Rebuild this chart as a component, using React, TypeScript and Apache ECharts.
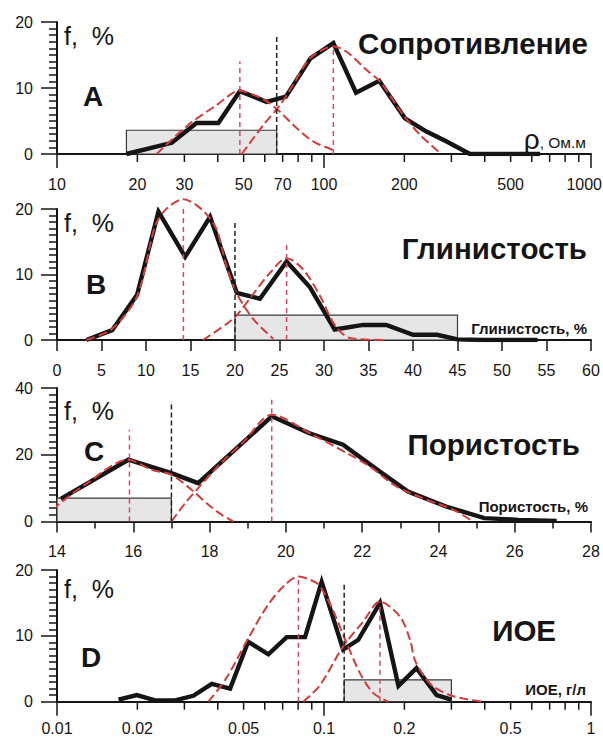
import React, { useEffect, useRef } from 'react';
import * as echarts from 'echarts';

// ---------- Panel A: Сопротивление (log axis, Ом.м) ----------
const aBlackX = [18.2, 26.9, 33.3, 40.2, 48.4, 60.9, 72, 89, 108.4, 131.8, 161, 201, 242, 288, 352, 430, 525, 645];
const aBlackF = [0, 1.7, 4.7, 4.7, 9.5, 7.9, 8.7, 14.5, 16.8, 9.3, 11.1, 5.4, 3.4, 1.9, 0, 0, 0, 0];
const aFit1X = [23.6, 31.0, 39.6, 48.4, 54.3, 60.9, 68.4, 76.7, 91.0, 105.3, 108.4];
const aFit1F = [0, 4.4, 7.4, 9.6, 9.0, 8.0, 6.4, 4.4, 1.9, 0.8, 0.5];
const aFit2X = [49.2, 59.3, 68.4, 76.7, 88.7, 108.4, 121.6, 144.6, 162, 198, 229, 275];
const aFit2F = [0, 4.4, 7.4, 10.5, 14.5, 16.3, 15.5, 12.7, 11.0, 5.9, 2.9, 0];
const aModes = [48.4, 108.4];
const aModeTops = [14, 16.3];
const aCut = 66.5;
const aCutTop = 18;
const aRange = [18.2, 66.5];
const aRangeTop = 3.6;
const aTicks = [10, 20, 30, 40, 50, 60, 70, 80, 90, 100, 200, 300, 400, 500, 600, 700, 800, 900, 1000];
const aTickLabels = [10, 20, 30, 50, 70, 100, 200, 500, 1000];

// ---------- Panel B: Глинистость, % ----------
const bBlackX = [3.3, 6.2, 9.0, 11.4, 14.4, 17.2, 20.2, 22.8, 25.8, 28.4, 31.2, 34.4, 37.0, 40.0, 42.7, 45.0, 48, 51, 54];
const bBlackF = [0, 1.5, 6.9, 19.6, 12.7, 18.8, 7.2, 6.3, 12.0, 8.1, 1.6, 2.3, 2.3, 0.8, 0.8, 0.1, 0, 0, 0];
const bFit1X = [3.3, 6.2, 9.0, 11.0, 12.2, 14.2, 16.3, 17.9, 19.0, 20.2, 22.1, 24.3];
const bFit1F = [0, 1.7, 6.7, 17.3, 19.9, 21.5, 19.9, 17.0, 11.5, 7.1, 3.1, 0.2];
const bFit2X = [16.4, 19.1, 20.2, 22.1, 23.9, 25.8, 27.7, 29.6, 31.2, 32.9, 36.7];
const bFit2F = [0, 2.5, 3.8, 7.1, 10.2, 12.5, 10.7, 6.6, 2.3, 0.3, 0];
const bModes = [14.2, 25.8];
const bModeTops = [21.5, 14.5];
const bCut = 20;
const bCutTop = 18.3;
const bRange = [20, 45];
const bRangeTop = 3.8;

// ---------- Panel C: Пористость, % ----------
const cBlackX = [14.1, 15.87, 17.0, 17.7, 19.63, 20.6, 21.5, 22.4, 23.2, 24.2, 25.2, 26.1, 27.1];
const cBlackF = [6.8, 18.5, 14.5, 11.5, 31.5, 26.5, 23.0, 15.5, 9.0, 4.5, 1.0, 0.5, 0.2];
const cFit1X = [13.73, 13.9, 14.03, 14.73, 15.87, 16.48, 17.0, 17.53, 17.97, 18.32, 18.62];
const cFit1F = [0, 3.5, 5, 11, 18.5, 15.5, 14, 9.5, 5, 2, 0];
const cFit2X = [17.0, 17.36, 17.7, 18.3, 18.9, 19.63, 20.7, 21.6, 22.2, 22.9, 23.7, 24.4, 24.9];
const cFit2F = [0, 5.5, 10, 17.5, 24, 32, 26, 20.5, 16.5, 10.5, 6.5, 3.5, 0];
const cModes = [15.9, 19.63];
const cModeTops = [27.5, 36.5];
const cCut = 17.0;
const cCutTop = 36;
const cRange = [14, 17];
const cRangeTop = 7;

// ---------- Panel D: ИОЕ, г/л (log axis) ----------
const dBlackX = [0.017, 0.0199, 0.0233, 0.0277, 0.0324, 0.038, 0.0445, 0.052, 0.0619, 0.0725, 0.0849, 0.098, 0.118, 0.1344, 0.162, 0.19, 0.222, 0.264, 0.3];
const dBlackF = [0.3, 1.0, 0.2, 0.2, 0.9, 2.7, 2.0, 9.1, 7.2, 9.8, 9.8, 18.2, 7.9, 9.4, 15.0, 2.4, 5.1, 1.0, 0.3];
const dFit1X = [0.0369, 0.0431, 0.052, 0.061, 0.0704, 0.0802, 0.094, 0.0996, 0.108, 0.1216, 0.1365, 0.153, 0.174];
const dFit1F = [0, 3.6, 9.6, 14.4, 17.5, 19.0, 18.0, 16.7, 13.9, 8.9, 4.3, 1.3, 0];
const dFit2X = [0.0836, 0.0966, 0.118, 0.1405, 0.162, 0.1926, 0.21, 0.219, 0.235, 0.2566, 0.296, 0.34, 0.395];
const dFit2F = [0, 2.5, 8.4, 12.2, 15.2, 12.9, 9.4, 6.3, 4.1, 2.3, 1.0, 0.4, 0];
const dModes = [0.0802, 0.162];
const dModeTops = [19, 15.2];
const dCut = 0.119;
const dCutTop = 18.2;
const dRange = [0.119, 0.3];
const dRangeTop = 3.3;
const dTicks = [0.01, 0.02, 0.03, 0.04, 0.05, 0.06, 0.07, 0.08, 0.09, 0.1, 0.2, 0.3, 0.4, 0.5, 0.6, 0.7, 0.8, 0.9, 1];
const dTickLabels = [0.01, 0.02, 0.05, 0.1, 0.2, 0.5, 1];

const FONT = '"Liberation Sans", Arial, Helvetica, sans-serif';
const INK = '#151515';
const RED = '#d63b3b';
const RED_V = '#dc4660';
const PAGE_W = 603;

const zip = (xs: number[], ys: number[]) => xs.map((x, i) => [x, ys[i]]);

type Panel = {
  log: boolean;
  xMin: number; xMax: number; xInterval?: number; xMinorSplit?: number;
  yMax: number; yInterval: number;
  top: number; height: number; labelMargin: number;
  blackX: number[]; blackF: number[];
  fits: [number[], number[]][];
  modes: number[]; modeTops: number[];
  cut: number; cutTop: number;
  range: number[]; rangeTop: number;
  ticks?: number[]; tickLabels?: number[];
};

const panels: Panel[] = [
  { log: true, xMin: 10, xMax: 1000, yMax: 20, yInterval: 10, top: 22, height: 132, labelMargin: 22,
    blackX: aBlackX, blackF: aBlackF, fits: [[aFit1X, aFit1F], [aFit2X, aFit2F]],
    modes: aModes, modeTops: aModeTops, cut: aCut, cutTop: aCutTop, range: aRange, rangeTop: aRangeTop,
    ticks: aTicks, tickLabels: aTickLabels },
  { log: false, xMin: 0, xMax: 60, xInterval: 5, yMax: 20, yInterval: 10, top: 209, height: 131, labelMargin: 22,
    blackX: bBlackX, blackF: bBlackF, fits: [[bFit1X, bFit1F], [bFit2X, bFit2F]],
    modes: bModes, modeTops: bModeTops, cut: bCut, cutTop: bCutTop, range: bRange, rangeTop: bRangeTop },
  { log: false, xMin: 14, xMax: 28, xInterval: 2, xMinorSplit: 2, yMax: 40, yInterval: 20, top: 388, height: 133.5, labelMargin: 22,
    blackX: cBlackX, blackF: cBlackF, fits: [[cFit1X, cFit1F], [cFit2X, cFit2F]],
    modes: cModes, modeTops: cModeTops, cut: cCut, cutTop: cCutTop, range: cRange, rangeTop: cRangeTop },
  { log: true, xMin: 0.01, xMax: 1, yMax: 20, yInterval: 10, top: 570, height: 131.7, labelMargin: 19,
    blackX: dBlackX, blackF: dBlackF, fits: [[dFit1X, dFit1F], [dFit2X, dFit2F]],
    modes: dModes, modeTops: dModeTops, cut: dCut, cutTop: dCutTop, range: dRange, rangeTop: dRangeTop,
    ticks: dTicks, tickLabels: dTickLabels },
];

function labelWidth(s: string, size: number) {
  let w = 0;
  for (const ch of s) w += ch === '.' ? 0.278 : 0.556;
  return w * size;
}

function buildOption() {
  const grid: any[] = [];
  const xAxis: any[] = [];
  const yAxis: any[] = [];
  const series: any[] = [];

  panels.forEach((p, i) => {
    grid.push({ left: 57, width: 534, top: p.top, height: p.height });
    xAxis.push({
      gridIndex: i,
      type: p.log ? 'log' : 'value',
      logBase: 10,
      min: p.xMin,
      max: p.xMax,
      interval: p.log ? undefined : p.xInterval,
      axisLine: { show: true, onZero: false, lineStyle: { color: INK, width: 2 } },
      axisTick: p.log ? { show: false } : { show: true, length: 11, lineStyle: { color: INK, width: 1.5 } },
      minorTick: p.xMinorSplit ? { show: true, splitNumber: p.xMinorSplit, length: 7, lineStyle: { color: INK, width: 1.5 } } : { show: false },
      axisLabel: p.log ? { show: false } : { show: true, fontSize: 16, color: INK, fontFamily: FONT, margin: p.labelMargin },
      splitLine: { show: false },
      minorSplitLine: { show: false },
    });
    yAxis.push({
      gridIndex: i,
      type: 'value',
      min: 0,
      max: p.yMax,
      interval: p.yInterval,
      axisLine: { show: true, lineStyle: { color: INK, width: 2 } },
      axisTick: { show: true, length: 16, lineStyle: { color: INK, width: 1.5 } },
      minorTick: { show: true, splitNumber: 10, length: 8, lineStyle: { color: INK, width: 1.5 } },
      axisLabel: { show: true, fontSize: 16, color: INK, fontFamily: FONT, margin: 24 },
      splitLine: { show: false },
      minorSplitLine: { show: false },
    });

    // range rectangle
    series.push({
      type: 'custom', xAxisIndex: i, yAxisIndex: i, silent: true, z: 1,
      data: [[p.range[0], p.range[1], p.rangeTop]],
      renderItem: (params: any, api: any) => {
        const a = api.coord([api.value(0), api.value(2)]);
        const b = api.coord([api.value(1), 0]);
        return {
          type: 'rect',
          shape: { x: a[0], y: a[1], width: b[0] - a[0], height: b[1] - a[1] },
          style: { fill: '#e6e6e6', stroke: '#3a3a3a', lineWidth: 1.2 },
        };
      },
    });
    // histogram polygon
    series.push({
      type: 'line', xAxisIndex: i, yAxisIndex: i, symbol: 'none', silent: true, z: 3,
      data: zip(p.blackX, p.blackF),
      lineStyle: { color: INK, width: 4.4, join: 'miter' },
    });
    // fitted components
    p.fits.forEach(([fx, ff]) => {
      series.push({
        type: 'line', xAxisIndex: i, yAxisIndex: i, symbol: 'none', silent: true, z: 4, clip: false,
        smooth: 0.3,
        data: zip(fx, ff),
        lineStyle: { color: RED, width: 2, type: [9, 4] },
      });
    });
    // mode verticals
    p.modes.forEach((m, k) => {
      series.push({
        type: 'line', xAxisIndex: i, yAxisIndex: i, symbol: 'none', silent: true, z: 4,
        data: [[m, 0], [m, p.modeTops[k]]],
        lineStyle: { color: RED_V, width: 1.5, type: [5, 4] },
      });
    });
    // cutoff vertical
    series.push({
      type: 'line', xAxisIndex: i, yAxisIndex: i, symbol: 'none', silent: true, z: 4,
      data: [[p.cut, 0], [p.cut, p.cutTop]],
      lineStyle: { color: '#222', width: 1.5, type: [5, 3] },
    });

    if (p.log && p.ticks && p.tickLabels) {
      series.push({
        type: 'custom', xAxisIndex: i, yAxisIndex: i, silent: true, z: 2, clip: false,
        data: p.ticks.map((v) => [v, 0]),
        renderItem: (params: any, api: any) => {
          const v = api.value(0);
          const pt = api.coord([v, 0]);
          const lg = Math.log10(v);
          const major = Math.abs(lg - Math.round(lg)) < 1e-6;
          const len = major ? 14 : 8;
          return {
            type: 'line',
            shape: { x1: pt[0], y1: pt[1], x2: pt[0], y2: pt[1] + len },
            style: { stroke: INK, lineWidth: 1.5 },
          };
        },
      });
      const margin = p.labelMargin;
      series.push({
        type: 'custom', xAxisIndex: i, yAxisIndex: i, silent: true, z: 2, clip: false,
        data: p.tickLabels.map((v) => [v, 0]),
        renderItem: (params: any, api: any) => {
          const v = api.value(0);
          const pt = api.coord([v, 0]);
          const s = String(v);
          const half = labelWidth(s, 16) / 2;
          const cx = Math.min(pt[0], PAGE_W - 1 - half);
          return {
            type: 'text',
            x: cx,
            y: pt[1] + margin,
            style: {
              text: s, fontSize: 16, fontFamily: FONT, fill: INK,
              textAlign: 'center', textVerticalAlign: 'top',
            },
          };
        },
      });
    }
  });

  const txt = (text: string, x: number, y: number, size: number, weight: string, align: string) => ({
    type: 'text', x, y, silent: true,
    style: { text, fontSize: size, fontWeight: weight, fontFamily: FONT, fill: INK, textAlign: align, textVerticalAlign: 'middle' },
  });

  const graphic: any[] = [
    txt('Сопротивление', 588, 43, 29.5, 'bold', 'right'),
    txt('Глинистость', 587, 248, 29.5, 'bold', 'right'),
    txt('Пористость', 580, 444, 29.5, 'bold', 'right'),
    txt('ИОЕ', 556, 630, 29.5, 'bold', 'right'),
    txt('A', 83, 96, 28, 'bold', 'left'),
    txt('B', 86, 284, 28, 'bold', 'left'),
    txt('C', 84, 451, 28, 'bold', 'left'),
    txt('D', 81, 657, 28, 'bold', 'left'),
    txt('f,  %', 64, 36, 25, 'normal', 'left'),
    txt('f,  %', 64, 223, 25, 'normal', 'left'),
    txt('f,  %', 64, 411, 25, 'normal', 'left'),
    txt('f,  %', 64, 589, 25, 'normal', 'left'),
    {
      type: 'text', x: 586, y: 139, silent: true,
      style: {
        text: '{a|ρ}{b|, Ом.м}', fontFamily: FONT, fill: INK, textAlign: 'right', textVerticalAlign: 'middle',
        rich: { a: { fontSize: 28, fontFamily: FONT, fill: INK }, b: { fontSize: 15.5, fontFamily: FONT, fill: INK, padding: [6, 0, 0, 0] } },
      },
    },
    txt('Глинистость, %', 587, 328, 15, 'bold', 'right'),
    txt('Пористость, %', 588, 506, 15, 'bold', 'right'),
    txt('ИОЕ, г/л', 586, 689, 15, 'bold', 'right'),
  ];

  return { animation: false, backgroundColor: '#ffffff', grid, xAxis, yAxis, series, graphic };
}

export default function App() {
  const ref = useRef<HTMLDivElement>(null);
  useEffect(() => {
    if (!ref.current) return;
    const chart = echarts.init(ref.current, undefined, { renderer: 'svg' });
    chart.setOption(buildOption() as any);
    return () => chart.dispose();
  }, []);
  return (
    <div
      ref={ref}
      style={{ position: 'absolute', left: 0, top: 0, width: 603, height: 738, background: '#fff' }}
    />
  );
}
